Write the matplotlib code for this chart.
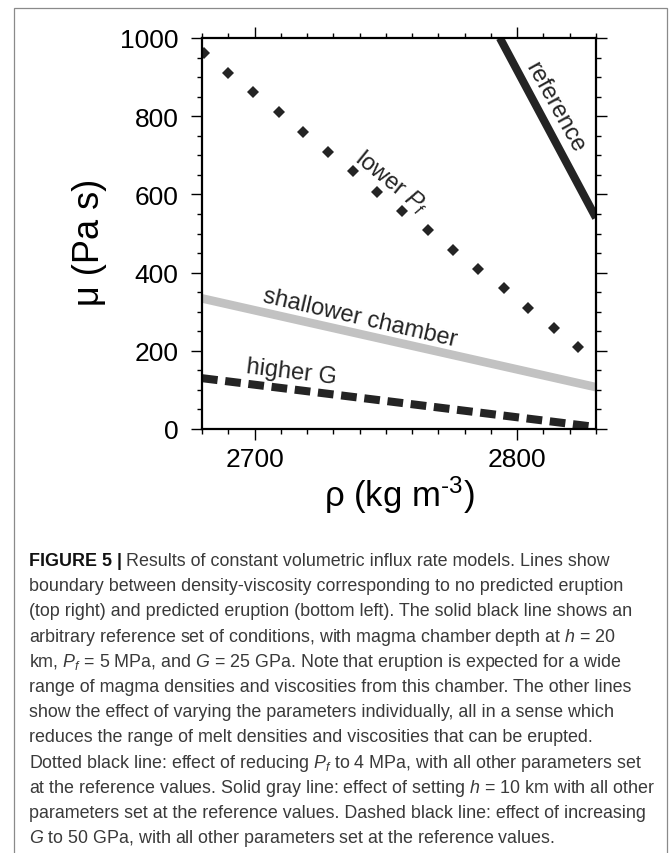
import matplotlib

matplotlib.use("Agg")
import matplotlib.pyplot as plt
from matplotlib import font_manager
from matplotlib.patches import Rectangle
from matplotlib.ticker import MultipleLocator

plt.rcParams.update({
    "font.family": "Liberation Sans",
    "mathtext.fontset": "custom",
    "mathtext.rm": "Liberation Sans",
    "mathtext.it": "Liberation Sans:italic",
    "mathtext.bf": "Liberation Sans:bold",
})

# data (rho in kg m^-3, mu in Pa s)
rho_ref = [2793.4, 2830.0]
mu_ref = [1000, 540]

rho_low_pf = [2680.8, 2690.0, 2699.6, 2709.2, 2718.5, 2727.8, 2737.4, 2746.8,
              2756.3, 2765.9, 2775.4, 2785.2, 2794.8, 2804.3, 2813.9, 2823.3]
mu_low_pf = [961, 911, 861, 810, 760, 709, 659, 607,
             557, 508, 459, 409, 360, 309, 259, 209]

rho_shallow = [2680, 2830]
mu_shallow = [334, 107]

rho_high_g = [2680, 2830]
mu_high_g = [130, 5]

CAPTION = [
    "boundary between density-viscosity corresponding to no predicted eruption",
    "(top right) and predicted eruption (bottom left). The solid black line shows an",
    "arbitrary reference set of conditions, with magma chamber depth at $h$ = 20",
    "km, $P_f$ = 5 MPa, and $G$ = 25 GPa. Note that eruption is expected for a wide",
    "range of magma densities and viscosities from this chamber. The other lines",
    "show the effect of varying the parameters individually, all in a sense which",
    "reduces the range of melt densities and viscosities that can be erupted.",
    "Dotted black line: effect of reducing $P_f$ to 4 MPa, with all other parameters set",
    "at the reference values. Solid gray line: effect of setting $h$ = 10 km with all other",
    "parameters set at the reference values. Dashed black line: effect of increasing",
    "$G$ to 50 GPa, with all other parameters set at the reference values.",
]
CAPTION_HEAD = "FIGURE 5 |"
CAPTION_FIRST = "Results of constant volumetric influx rate models. Lines show"

DARK = "#242424"
GRAY = "#c2c2c2"
W, H = 669, 854


def _has_font(name):
    try:
        font_manager.findfont(name, fallback_to_default=False)
        return True
    except Exception:
        return False


CAP_FONT = ("Liberation Sans Narrow" if _has_font("Liberation Sans Narrow")
            else "Liberation Sans")

fig = plt.figure(figsize=(W / 100, H / 100), dpi=100)
fig.patches.append(Rectangle((14 / W, -0.02), (667 - 14) / W, 1.02 - 9 / H,
                             transform=fig.transFigure, fill=False,
                             edgecolor="#8a8a8a", lw=0.9))

ax = fig.add_axes([202 / W, 1 - 430 / H, (596 - 202) / W, (430 - 39) / H])

ax.plot(rho_ref, mu_ref, color=DARK, lw=5.8, solid_capstyle="butt")
ax.plot(rho_low_pf, mu_low_pf, ls="none", marker="D", ms=6.6, mew=0,
        color=DARK)
ax.plot(rho_shallow, mu_shallow, color=GRAY, lw=6.2, solid_capstyle="butt")
ax.plot(rho_high_g, mu_high_g, color=DARK, lw=5.8,
        ls=(0, (1.95, 0.95)), dash_capstyle="butt")

lab = dict(fontsize=17, color=DARK, ha="center", va="center",
           rotation_mode="anchor")
ax.text(2814.3, 823, "reference", rotation=-61, **lab)
ax.text(2752, 632, "lower $P_f$", rotation=-39, **lab)
ax.text(2740, 286, "shallower chamber", rotation=-13, **lab)
ax.text(2714, 147, "higher G", rotation=-7, **lab)

ax.set_xlim(2680, 2830)
ax.set_ylim(0, 1000)
ax.xaxis.set_major_locator(MultipleLocator(100))
ax.xaxis.set_minor_locator(MultipleLocator(10))
ax.yaxis.set_major_locator(MultipleLocator(200))
ax.yaxis.set_minor_locator(MultipleLocator(50))
ax.tick_params(which="both", direction="out", top=True, right=True,
               labelsize=19, width=1.0, color="black")
ax.tick_params(which="major", length=8)
ax.tick_params(which="minor", length=3.3)
ax.tick_params(axis="x", pad=5)
ax.tick_params(axis="y", pad=9)
for s in ax.spines.values():
    s.set_linewidth(1.6)

ax.set_xlabel(r"ρ (kg m$^{\text{-3}}$)", fontsize=25, labelpad=2)
ax.set_ylabel("μ (Pa s)", fontsize=26)
ax.yaxis.set_label_coords(-0.24, 0.48)

# caption, sized so the widest line fits the original width
r = fig.canvas.get_renderer()
probe = fig.text(0, 0, CAPTION[8], fontsize=12, family=CAP_FONT)
wpx = probe.get_window_extent(r).width
probe.remove()
cap_size = 12 * 624 / wpx

x0 = 29 / W
y_first = 566
step = 25.2
head = fig.text(x0, 1 - y_first / H, CAPTION_HEAD, fontsize=cap_size,
                family=CAP_FONT, weight="bold", color="#111111", va="baseline")
hw = head.get_window_extent(r).width
fig.text(x0 + (hw + cap_size * 0.35) / W, 1 - y_first / H, CAPTION_FIRST,
         fontsize=cap_size, family=CAP_FONT, color="#3a3a3a", va="baseline")
for i, line in enumerate(CAPTION, start=1):
    fig.text(x0, 1 - (y_first + step * i) / H, line, fontsize=cap_size,
             family=CAP_FONT, color="#3a3a3a", va="baseline")

fig.savefig("out.png", dpi=100)
